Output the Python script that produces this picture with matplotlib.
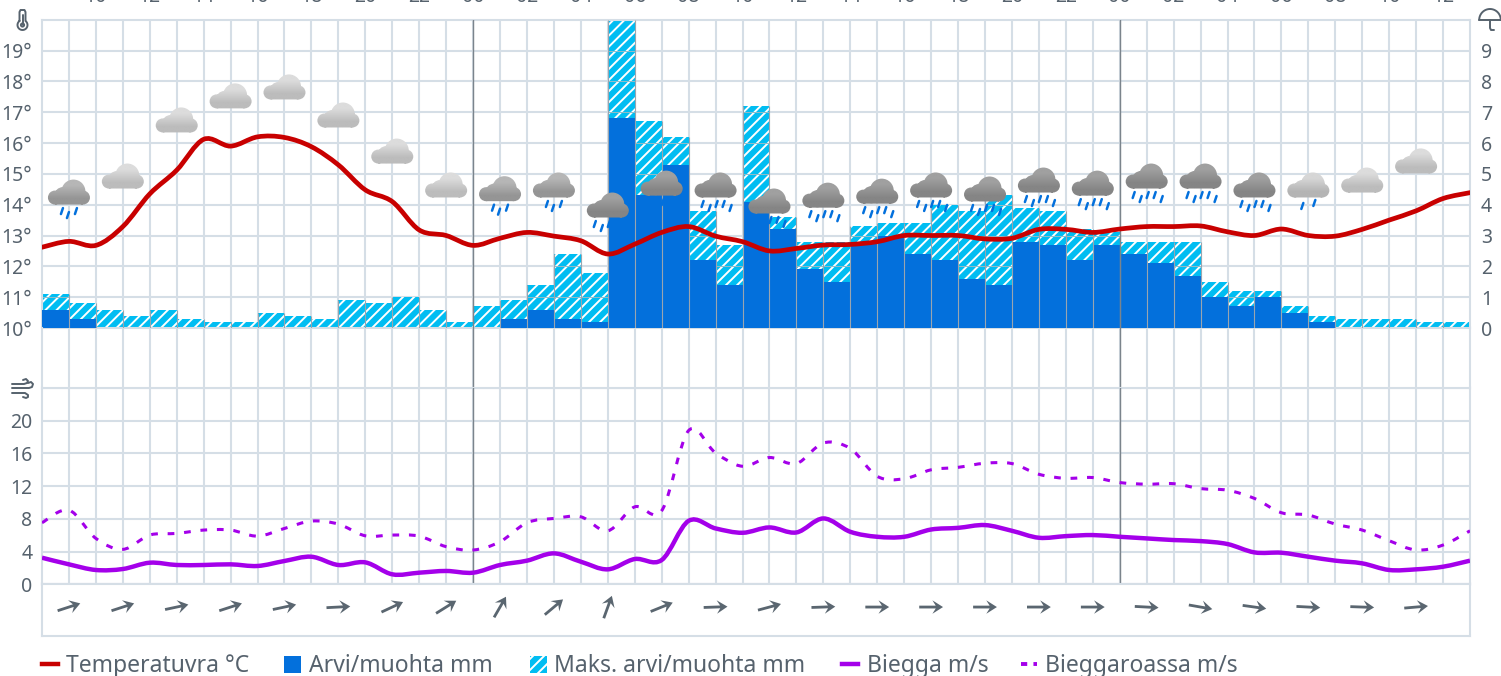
import numpy as np
import matplotlib
matplotlib.use("Agg")
import matplotlib.pyplot as plt
from matplotlib.path import Path
from matplotlib.patches import PathPatch, Rectangle
from matplotlib.lines import Line2D

W, H = 1501, 676
plt.rcParams['font.family'] = ['Noto Sans', 'DejaVu Sans']
plt.rcParams['hatch.linewidth'] = 1.4

# hourly values, first point is 08:00
hour_labels = ["10", "12", "14", "16", "18", "20", "22", "00", "02", "04", "06", "08", "10",
               "12", "14", "16", "18", "20", "22", "00", "02", "04", "06", "08", "10", "12"]

temperature = [12.62, 12.81, 12.68, 13.29, 14.35, 15.12, 16.12, 15.9, 16.2, 16.18, 15.88, 15.29, 14.48, 14.1,
               13.18, 13.0, 12.68, 12.91, 13.1, 12.98, 12.83, 12.4, 12.72, 13.1, 13.29, 12.98, 12.8, 12.5,
               12.58, 12.69, 12.71, 12.8, 13.0, 13.0, 13.0, 12.89, 12.91, 13.2, 13.2, 13.1, 13.21, 13.29,
               13.29, 13.31, 13.12, 13.0, 13.21, 13.0, 12.98, 13.2, 13.5, 13.8, 14.2, 14.39]

precip = [0.6, 0.3, 0, 0, 0, 0, 0, 0, 0, 0, 0, 0, 0, 0, 0, 0, 0, 0.3, 0.6, 0.3, 0.2, 6.8, 4.3, 5.3, 2.2, 1.4,
          4.1, 3.2, 1.9, 1.5, 2.8, 3.0, 2.4, 2.2, 1.6, 1.4, 2.8, 2.7, 2.2, 2.7, 2.4, 2.1, 1.7, 1.0, 0.7, 1.0,
          0.5, 0.2, 0, 0, 0, 0, 0]
precip_max = [1.1, 0.8, 0.6, 0.4, 0.6, 0.3, 0.2, 0.2, 0.5, 0.4, 0.3, 0.9, 0.8, 1.0, 0.6, 0.2, 0.7, 0.9, 1.4, 2.4,
              1.8, 10.0, 6.7, 6.2, 3.8, 2.7, 7.2, 3.6, 2.8, 2.8, 3.3, 3.4, 3.4, 4.0, 3.8, 4.3, 3.9, 3.8, 3.2, 3.1,
              2.8, 2.8, 2.8, 1.5, 1.2, 1.2, 0.7, 0.4, 0.3, 0.3, 0.3, 0.2, 0.2]

wind = [3.25, 2.44, 1.75, 1.87, 2.64, 2.36, 2.36, 2.44, 2.24, 2.85, 3.37, 2.36, 2.68, 1.22, 1.42, 1.63, 1.42,
        2.36, 2.89, 3.78, 2.76, 1.83, 3.09, 2.97, 7.76, 6.83, 6.3, 6.95, 6.34, 8.05, 6.42, 5.81, 5.81, 6.7, 6.9,
        7.24, 6.54, 5.69, 5.89, 6.02, 5.81, 5.61, 5.41, 5.28, 4.92, 3.9, 3.86, 3.37, 2.89, 2.56, 1.75, 1.83,
        2.15, 2.89]
gust = [7.53, 9.07, 5.61, 4.27, 6.02, 6.22, 6.63, 6.63, 5.89, 6.83, 7.73, 7.36, 5.93, 6.02, 5.89, 4.6, 4.19,
        5.2, 7.53, 8.05, 8.25, 6.54, 9.47, 9.0, 18.8, 16.06, 14.43, 15.5, 14.76, 17.28, 16.6, 13.2, 12.9, 14.0,
        14.3, 14.8, 14.76, 13.45, 12.96, 13.05, 12.44, 12.24, 12.3, 11.7, 11.5, 10.5, 8.75, 8.47, 7.36, 6.63,
        5.33, 4.19, 4.8, 6.54]

# one symbol every second hour, starting at hour index 1
symbol_base = [14.02, 14.54, 16.36, 17.14, 17.43, 16.52, 15.35, 14.25, 14.13, 14.25, 13.6, 14.31, 14.25, 13.73,
               13.92, 14.05, 14.25, 14.12, 14.41, 14.31, 14.54, 14.54, 14.25, 14.25, 14.41, 15.03]
symbol_shade = ["mid", "light", "light", "light", "light", "light", "light", "light", "mid", "mid", "dark", "dark",
                "dark", "dark", "dark", "dark", "dark", "dark", "dark", "dark", "dark", "dark", "dark", "pale",
                "light", "light"]
symbol_drops = [3, 0, 0, 0, 0, 0, 0, 0, 3, 3, 5, 5, 5, 5, 5, 5, 5, 5, 5, 5, 5, 5, 5, 2, 0, 0]
wind_dir = [18, 18, 12, 18, 12, 3, 25, 32, 60, 40, 70, 22, 2, 15, 2, 0, 0, 0, 0, 0, -3, -10, -8, -3, -2, 5]

temp_ticks = [10, 11, 12, 13, 14, 15, 16, 17, 18, 19]
rain_ticks = [0, 1, 2, 3, 4, 5, 6, 7, 8, 9]
wind_ticks = [0, 4, 8, 12, 16, 20]

TEXT = "#56626d"
GRID = "#d5dee6"
RED = "#c80000"
BLUE = "#0370dc"
CYAN = "#00bdf2"
PURPLE = "#a400ea"
ARROW = "#5a6670"

LEFT, RIGHT = 42, 1470
XSTEP = (RIGHT - LEFT) / 53
TEMP_PX = 30.83

shades = {"pale": ("#d6d6d6", "#b4b4b4"), "light": ("#dcdcdc", "#bcbcbc"),
          "mid": ("#b6b6b6", "#959595"), "dark": ("#a0a0a0", "#858585")}


def axes_px(x0, y_top, x1, y_bottom):
    return fig.add_axes([x0 / W, 1 - y_bottom / H, (x1 - x0) / W, (y_bottom - y_top) / H])


# catmull-rom through the values so the lines are curved like the original
def smooth(xs, ys):
    pts = np.column_stack([xs, ys])
    verts = [pts[0]]
    codes = [Path.MOVETO]
    for i in range(len(pts) - 1):
        p0 = pts[max(i - 1, 0)]
        p1 = pts[i]
        p2 = pts[i + 1]
        p3 = pts[min(i + 2, len(pts) - 1)]
        verts += [p1 + (p2 - p0) / 6, p2 - (p3 - p1) / 6, p2]
        codes += [Path.CURVE4] * 3
    return Path(verts, codes)


def cloud_path(cx, base):
    # built in pixels around the symbol spot, then scaled to data units
    blobs = [(-14, 6.5, 7), (4.5, 12.5, 12), (14, 6.5, 7), (-6, 8.5, 8.5)]
    parts = []
    for dx, dy, r in blobs:
        c = Path.circle((dx, dy), r)
        parts.append(Path(np.array(c.vertices), c.codes))
    parts.append(Path.unit_rectangle().transformed(
        matplotlib.transforms.Affine2D().scale(28, 8).translate(-14, -0.5)))
    p = Path.make_compound_path(*parts)
    v = p.vertices.copy()
    return Path(np.column_stack([cx + v[:, 0] / XSTEP, base + v[:, 1] / TEMP_PX]), p.codes)


def base_axes(ax):
    ax.set_xlim(0, 53)
    ax.set_xticks(range(1, 53))
    ax.tick_params(length=0, labelbottom=False)
    ax.grid(True, color=GRID, lw=1.5, zorder=2)
    ax.set_axisbelow(False)
    for s in ax.spines.values():
        s.set_color(GRID)
        s.set_linewidth(1.5)
    ax.patch.set_alpha(0)
    # midnight lines run over the bars too
    ax.axvline(16, color="#7b848c", lw=1, zorder=3.2)
    ax.axvline(40, color="#7b848c", lw=1, zorder=3.2)


fig = plt.figure(figsize=(W / 100, H / 100), dpi=100)

# temperature / precipitation panel
ax = axes_px(LEFT, 19.7, RIGHT, 328)
base_axes(ax)
ax.grid(False)
ax.set_ylim(10, 20)
ax.set_yticks(temp_ticks)
ax.set_yticklabels([f"{t}°" for t in temp_ticks], fontsize=14, color=TEXT)
ax.tick_params(axis="y", pad=7)
# grid goes under the hatched bars here, they only let a faint line through
ax.vlines(range(1, 53), 10, 20, color=GRID, lw=1.5, zorder=1)
ax.hlines(temp_ticks[1:], 0, 53, color=GRID, lw=1.5, zorder=1)

bar_x = np.arange(53) + 0.5
ax.bar(bar_x, precip_max, width=1.0, bottom=10, color=CYAN, edgecolor="white", hatch="///", lw=0, zorder=1.5)
ax.bar(bar_x, precip, width=1.0, bottom=10, color=BLUE, lw=0, zorder=3)

for tick in temp_ticks[1:]:
    for x, top in zip(bar_x, precip_max):
        if 10 + top > tick:
            ax.plot([x - 0.5, x + 0.5], [tick, tick], color="#93bcc8", lw=0.7, zorder=2)

# thin grey seams between neighbouring bars
seam_x = np.arange(1, 53)
seam_top = np.maximum(precip_max[:-1], precip_max[1:])
ax.vlines(seam_x, 10, 10 + seam_top, color="#9aa5af", lw=0.8, zorder=3.1)

hx = np.arange(54)
ax.add_patch(PathPatch(smooth(hx, temperature), fc="none", ec=RED, lw=3.4, zorder=4, capstyle="round"))

# weather symbols
sym_x = np.arange(1, 53, 2)
for cx, base, shade, drops in zip(sym_x, symbol_base, symbol_shade, symbol_drops):
    top_c, bottom_c = shades[shade]
    p = cloud_path(cx, base)
    patch = PathPatch(p, fc="none", ec="none", zorder=5)
    ax.add_patch(patch)
    grad = np.array([[matplotlib.colors.to_rgb(top_c)], [matplotlib.colors.to_rgb(bottom_c)]])
    im = ax.imshow(grad, extent=(cx - 1, cx + 1, base - 1 / TEMP_PX, base + 25 / TEMP_PX), aspect="auto",
                   interpolation="bilinear", origin="upper", zorder=5)
    im.set_clip_path(patch)
    offs = {2: [(-6, 9), (6, 6)], 3: [(-7, 7), (-1, 11), (7, 7)],
            5: [(-13, 7), (-6, 11), (1, 7), (8, 7), (15, 11)]}.get(drops, [])
    for dx, dy in offs:
        ax.plot([cx + (dx - 1) / XSTEP, cx + (dx + 1) / XSTEP],
                [base - (dy + 3) / TEMP_PX, base - (dy - 3) / TEMP_PX],
                color=BLUE, lw=1.8, solid_capstyle="round", zorder=5)
ax.set_xlim(0, 53)
ax.set_ylim(10, 20)

# right hand scale
axr = ax.twinx()
axr.set_ylim(0, 10)
axr.set_yticks(rain_ticks)
axr.set_yticklabels([str(t) for t in rain_ticks], fontsize=14, color=TEXT)
axr.tick_params(length=0, pad=8)
for s in axr.spines.values():
    s.set_visible(False)

# gap between the panels, only the vertical lines run through it
axg = axes_px(LEFT, 328, RIGHT, 388)
base_axes(axg)
axg.set_yticks([])
axg.spines["top"].set_visible(False)
axg.spines["bottom"].set_visible(False)

# wind panel
axw = axes_px(LEFT, 388, RIGHT, 584.3)
base_axes(axw)
axw.set_ylim(0, 24)
axw.set_yticks(wind_ticks + [24])
axw.set_yticklabels([str(t) for t in wind_ticks] + [""], fontsize=14, color=TEXT)
axw.tick_params(axis="y", pad=7)
axw.add_patch(PathPatch(smooth(hx, wind), fc="none", ec=PURPLE, lw=3.2, zorder=4))
axw.add_patch(PathPatch(smooth(hx, gust), fc="none", ec=PURPLE, lw=2.2, ls=(0, (2.2, 3.2)), zorder=4))

# wind direction row
axd = axes_px(LEFT, 584.3, RIGHT, 636)
axd.set_xlim(0, 53)
axd.set_ylim(0, 1)
axd.set_xticks([])
axd.set_yticks([])
for s in axd.spines.values():
    s.set_color(GRID)
    s.set_linewidth(1.5)
rad = np.radians(wind_dir)
axd.quiver(sym_x, np.full(len(sym_x), 0.56), np.cos(rad), np.sin(rad), angles="uv", pivot="mid",
           scale_units="inches", scale=4.2, units="inches", width=0.028, headwidth=4.8, headlength=3.8,
           headaxislength=2.6, color=ARROW, zorder=3)

# hour labels, the top edge cuts them off as in the original
for i, lab in enumerate(hour_labels):
    fig.text((LEFT + (2 * i + 2) * XSTEP) / W, 1 + 3 / H, lab, ha="center", va="center", fontsize=14, color=TEXT)

# small icons, in pixels of the figure
px = matplotlib.transforms.Affine2D().scale(1 / W, -1 / H).translate(0, 1) + fig.transFigure


def icon(xs, ys, lw=1.4, color=TEXT):
    fig.add_artist(Line2D(xs, ys, transform=px, color=color, lw=lw, solid_capstyle="round"))


# thermometer
t = np.linspace(0, 2 * np.pi, 40)
a = np.radians(np.linspace(-53, 233, 40))
icon(np.r_[19.5, 19.5, 20.5, 24.5, 25.5, 25.5, 22.5 + 5 * np.cos(a), 19.5],
     np.r_[21, 12, 10, 10, 12, 21, 25 + 5 * np.sin(a), 21])
icon([22.5, 22.5], [15, 25], lw=1.4)
icon(22.5 + 1.6 * np.cos(t), 25 + 1.6 * np.sin(t), lw=1.4)

# umbrella
a = np.linspace(np.pi, 2 * np.pi, 30)
icon(1490 + 10.8 * np.cos(a), 20 + 11 * np.sin(a))
icon([1479.2, 1500.8], [20, 20])
icon([1490, 1490, 1491, 1494], [20, 28, 30, 30])

# wind
icon([12, 24, 27, 28, 26, 23], [384, 384, 383, 381, 379, 380])
icon([12, 29, 32, 33, 31, 28], [388, 388, 387, 384, 382, 383])
icon([12, 25, 28, 28, 26, 23], [393, 393, 395, 397, 398, 397])

# legend, placed by hand along the bottom edge
leg = fig.add_axes([0, 0, 1, 1])
leg.set_xlim(0, W)
leg.set_ylim(H, 0)
leg.axis("off")
LEG_Y = 664
leg.plot([42, 58], [LEG_Y, LEG_Y], color=RED, lw=3.2)
leg.add_patch(Rectangle((284, 656), 17, 17, fc=BLUE, lw=0))
leg.add_patch(Rectangle((530, 656), 17, 17, fc=CYAN, ec="white", hatch="///", lw=0))
leg.plot([842, 858], [LEG_Y, LEG_Y], color=PURPLE, lw=3.2)
leg.plot([1021, 1037], [LEG_Y, LEG_Y], color=PURPLE, lw=2.8, ls=(0, (1.6, 1.6)))
leg_names = ["Temperatuvra °C", "Arvi/muohta mm", "Maks. arvi/muohta mm", "Biegga m/s", "Bieggaroassa m/s"]
leg_x = [66, 309, 554, 867, 1045]
for x, name in zip(leg_x, leg_names):
    leg.text(x, LEG_Y + 2, name, fontsize=16.5, color=TEXT, va="center", ha="left")

fig.savefig("out.png", dpi=100)
